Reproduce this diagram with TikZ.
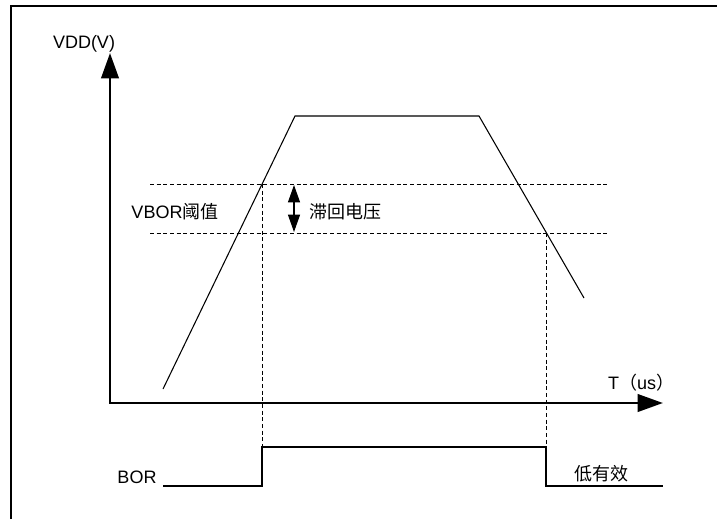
\documentclass[tikz,border=0pt]{standalone}
\usepackage{fontspec}
\setmainfont{Liberation Sans}
\newfontfamily\cjk{Noto Sans CJK SC}
\usetikzlibrary{arrows.meta, positioning}
\tikzstyle{frame} = [line width=2.2pt]
\tikzstyle{axis} = [
  line width=2.2pt,
  line join=miter,
  {Triangle[length=19pt,width=13pt]}-{Triangle[length=19pt,width=13pt]}
]
\tikzstyle{supply} = [line width=0.8pt]
\tikzstyle{level} = [line width=0.6pt, dash pattern=on 3pt off 2pt]
\tikzstyle{signal} = [line width=1pt]
\tikzstyle{span} = [
  line width=0.8pt,
  {Triangle[length=13pt,width=9pt]}-{Triangle[length=13pt,width=9pt]}
]
\tikzstyle{label} = [inner sep=0pt, font=\fontsize{13.5}{16}\selectfont]

\begin{document}
\begin{tikzpicture}[x=0.75pt, y=-0.75pt]
    \useasboundingbox (0,0) rectangle (717,519);
    \draw [frame] (11,519) -- (11,6) -- (717,6);

    \coordinate (ytip) at (110,53);
    \coordinate (origin) at (110,403);
    \coordinate (xtip) at (663,403);
    \coordinate (start) at (163,389);
    \coordinate (top-left) at (295,116);
    \coordinate (top-right) at (479,116);
    \coordinate (end) at (584,298);
    \coordinate (rise) at (262,184);
    \coordinate (fall) at (546,233);
    \coordinate (bor-start) at (163,486);
    \coordinate (bor-up) at (262,447);
    \coordinate (bor-down) at (546,447);
    \coordinate (bor-end) at (663,486);

    \node (vdd) [label] at (84,44) {VDD(V)};
    \node (time) [label] at (641,383) {T{\cjk （}us{\cjk ）}};
    \node (vbor) [label] at (175,212) {VBOR{\cjk 阈值}};
    \node (hysteresis) [label] at (345,212) {\cjk 滞回电压};
    \node (bor) [label] at (137,477) {BOR};
    \node (active-low) [label] at (601,474) {\cjk 低有效};

    \draw [axis] (ytip) -- (origin) -- (xtip);
    \draw [level] (150,184) -- (609,184);
    \draw [level] (150,233) -- (609,233);
    \draw [supply] (start) -- (top-left) -- (top-right) -- (end);
    \draw [span] (294,185) -- (294,232);
    \draw [level] (rise) -- (bor-up);
    \draw [level] (fall) -- (bor-down);
    \draw [signal] (bor-start) -- (bor-start -| bor-up) -- (bor-up) -- (bor-down) -- (bor-down |- bor-end) -- (bor-end);
\end{tikzpicture}
\end{document}
